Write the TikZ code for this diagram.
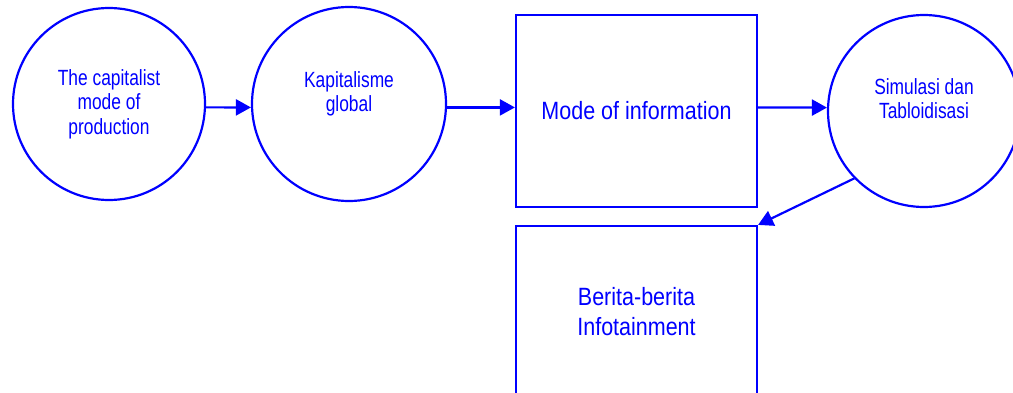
\documentclass[tikz,border=0pt]{standalone}
\usepackage{fontspec}
\setmainfont[FakeStretch=0.79]{Liberation Sans}
\newfontfamily\bigfont[FakeStretch=0.86]{Liberation Sans}
\usetikzlibrary{arrows.meta,calc}
\definecolor{dblue}{RGB}{0,0,255}
\begin{document}
\begin{tikzpicture}[x=1pt,y=1pt,
  shape line/.style={draw=dblue,line width=2.2pt},
  roundnode/.style={shape line,circle,inner sep=0pt,text=dblue,align=center,
     font=\fontsize{22}{24.5}\selectfont},
  boxnode/.style={shape line,rectangle,inner sep=0pt,text=dblue,align=center,
     font=\bigfont\fontsize{25}{30}\selectfont},
  arr/.style={draw=dblue,line width=2.2pt,-{Triangle[length=15pt,width=16pt]}}]
\useasboundingbox (0,0) rectangle (1013,392);
\clip (0,0) rectangle (1013,392);
\node[roundnode,minimum size=192pt] (c1) at (109,288) {The capitalist\\mode of\\production};
\node[roundnode,minimum size=194pt] (c2) at (349,288) {Kapitalisme\\global\\\phantom{x}};
\node[boxnode,minimum width=241pt,minimum height=192pt] (b1) at (636.5,281) {Mode of information};
\node[roundnode,minimum size=192pt] (c3) at (924,281) {Simulasi dan\\Tabloidisasi\\\phantom{x}};
\node[boxnode,minimum width=241pt,minimum height=172pt] (b2) at (636.5,80) {Berita-berita\\Infotainment};
\draw[arr] (c1.-2) -- (c2.182);
\draw[arr] (c2.-2) -- (c2.-2 -| b1.west);
\draw[arr] (c2.-2 -| b1.east) -- (c3.178);
\draw[arr] (c3.224) -- (b2.north east);
\end{tikzpicture}
\end{document}
